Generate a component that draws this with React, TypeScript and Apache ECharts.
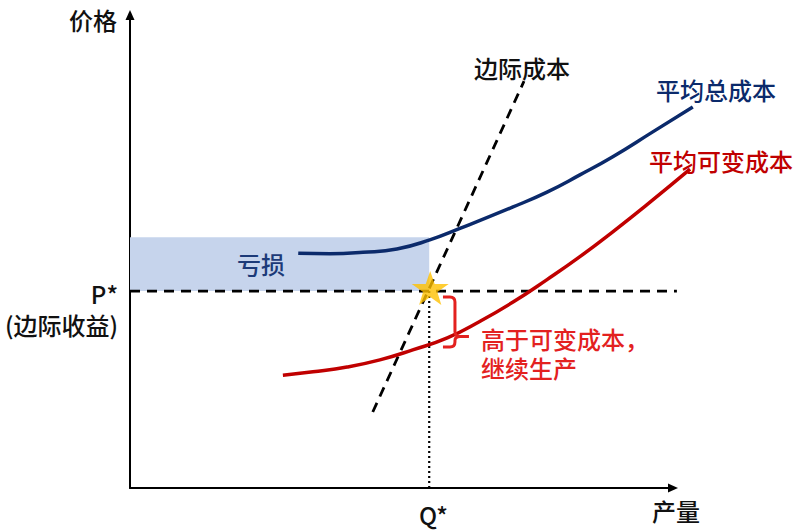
import React, { useEffect, useRef } from "react";
import * as echarts from "echarts";

// Quantity (x) and price (y) values
const atcCurve: [number, number][] = [
  [30.7, 49.1], [36.5, 49.0], [42.5, 49.3], [48.7, 50.0], [54.7, 51.9],
  [60.2, 54.3], [69.9, 58.8], [76.1, 61.9], [82.1, 65.5], [88.1, 69.3],
  [95.4, 74.5], [102.7, 79.7],
];
const avcCurve: [number, number][] = [
  [27.9, 23.6], [33.4, 24.3], [39.6, 25.3], [45.6, 26.8], [51.6, 28.9],
  [57.9, 31.4], [63.9, 34.9], [69.9, 38.9], [76.1, 43.6], [82.1, 48.4],
  [88.1, 53.6], [94.9, 59.8], [102.2, 66.7],
];
const mcLine: [number, number][] = [[44.3, 15.9], [71.9, 85.1]];
const pStar = 41.2;
const qStar = 54.6;
const lossTop = 52.45;
const priceLineEnd = 99.8;
// bracket: x, top, bottom, tick
const bracket = [[59.3, 39.96, 29.5, 31.7]];

const labels = {
  yName: "价格",
  xName: "产量",
  p: "P*",
  pSub: "(边际收益)",
  q: "Q*",
  loss: "亏损",
  mc: "边际成本",
  atc: "平均总成本",
  avc: "平均可变成本",
  note1: "高于可变成本，",
  note2: "继续生产",
};

const NAVY = "#0b2a6b";
const RED = "#c00000";
const BRIGHT_RED = "#e3211f";
const FONT = "Noto Sans CJK SC";

const STAR =
  "path://M50,0 L61.8,35.1 L98.9,35.1 L68.9,56.7 L79.4,91.9 L50,70 L20.6,91.9 L31.1,56.7 L1.1,35.1 L38.2,35.1 Z";

function txt(
  text: string,
  x: number,
  y: number,
  fill: string,
  align = "left",
  lineHeight = 30
) {
  return {
    type: "text",
    z: 100,
    style: {
      text,
      x,
      y,
      fill,
      fontSize: 24,
      fontWeight: 500,
      fontFamily: FONT,
      lineHeight,
      align,
      verticalAlign: "middle",
    },
  };
}

export default function App() {
  const ref = useRef<HTMLDivElement>(null);
  useEffect(() => {
    document.body.style.margin = "0";
    if (!ref.current) return;
    const chart = echarts.init(ref.current, undefined, { renderer: "svg" });
    const hiddenAxis = {
      type: "value" as const,
      min: 0,
      axisLine: { show: false },
      axisTick: { show: false },
      axisLabel: { show: false },
      splitLine: { show: false },
    };
    const visibleAxis = {
      ...hiddenAxis,
      axisLine: {
        show: true,
        symbol: ["none", "triangle"],
        symbolSize: [9, 10],
        lineStyle: { color: "#000", width: 2 },
      },
    };
    const onData = { xAxisIndex: 1, yAxisIndex: 1 };
    chart.setOption({
      animation: false,
      backgroundColor: "#fff",
      grid: [
        { left: 130, right: 127, top: 15, bottom: 42 },
        { left: 130, right: 94.6, top: 15, bottom: 42 },
      ],
      xAxis: [
        { ...visibleAxis, gridIndex: 0, max: 99.09 },
        { ...hiddenAxis, gridIndex: 1, max: 105 },
      ],
      yAxis: [
        { ...visibleAxis, gridIndex: 0, max: 98.95 },
        { ...hiddenAxis, gridIndex: 1, max: 98.95 },
      ],
      series: [
        {
          type: "line",
          ...onData,
          data: [[0, pStar], [priceLineEnd, pStar]],
          showSymbol: false,
          lineStyle: { color: "#000", width: 2.8, type: [10, 7] },
          markArea: {
            silent: true,
            itemStyle: { color: "#c6d4ec" },
            data: [[{ coord: [0, pStar] }, { coord: [qStar, lossTop] }]],
          },
          z: 2,
        },
        {
          type: "line",
          ...onData,
          data: [[qStar, 0], [qStar, pStar]],
          showSymbol: false,
          lineStyle: { color: "#000", width: 2.2, type: [2, 3] },
          z: 2,
        },
        {
          type: "line",
          ...onData,
          data: mcLine,
          showSymbol: false,
          lineStyle: { color: "#000", width: 2.8, type: [10, 7] },
          z: 3,
        },
        {
          type: "line",
          ...onData,
          data: atcCurve,
          smooth: true,
          showSymbol: false,
          lineStyle: { color: NAVY, width: 3.5 },
          z: 4,
        },
        {
          type: "line",
          ...onData,
          data: avcCurve,
          smooth: true,
          showSymbol: false,
          lineStyle: { color: RED, width: 3.5 },
          z: 4,
        },
        {
          type: "custom",
          ...onData,
          data: bracket,
          z: 5,
          renderItem: (params: any, api: any) => {
            const xv = api.value(0);
            const top = api.coord([xv, api.value(1)]);
            const bot = api.coord([xv, api.value(2)]);
            const mid = api.coord([xv, api.value(3)]);
            const vx = top[0];
            const ty = top[1];
            const by = bot[1];
            const my = mid[1];
            const d =
              `M${vx - 12},${ty} L${vx - 5},${ty} Q${vx},${ty} ${vx},${ty + 5} ` +
              `L${vx},${my - 5} Q${vx},${my} ${vx + 5},${my} L${vx + 14},${my} ` +
              `M${vx + 5},${my} Q${vx},${my} ${vx},${my + 4} L${vx},${by - 5} ` +
              `Q${vx},${by} ${vx - 5},${by} L${vx - 12},${by}`;
            return {
              type: "path",
              shape: { pathData: d },
              style: { fill: "none", stroke: BRIGHT_RED, lineWidth: 3 },
            };
          },
        },
        {
          type: "scatter",
          ...onData,
          data: [[qStar, pStar]],
          symbol: STAR,
          symbolSize: [37, 34],
          symbolOffset: [1, -3],
          itemStyle: { color: "#ffc000" },
          z: 10,
        },
      ],
      graphic: [
        txt(labels.yName, 117, 19, "#111", "right"),
        txt(labels.p + "\n" + labels.pSub, 118, 308.5, "#111", "right", 31),
        txt(labels.loss, 237, 263, "#1c3a78"),
        txt(labels.mc, 474, 67, "#111"),
        txt(labels.atc, 656, 89, NAVY),
        txt(labels.avc, 649, 160, RED),
        txt(labels.note1 + "\n" + labels.note2, 481, 352.5, BRIGHT_RED, "left", 29),
        txt(labels.q, 419, 514, "#111"),
        txt(labels.xName, 652, 510, "#111"),
      ],
    });
    return () => chart.dispose();
  }, []);
  return <div ref={ref} style={{ width: 800, height: 530 }} />;
}
